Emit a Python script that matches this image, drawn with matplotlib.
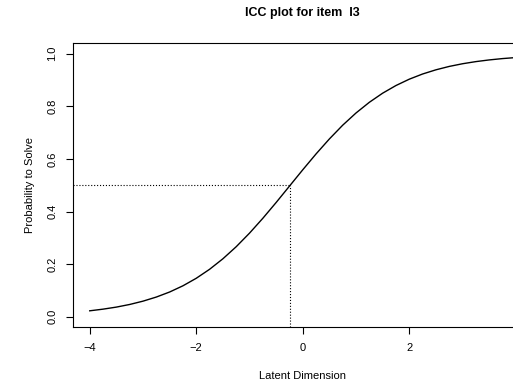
import matplotlib
matplotlib.use('Agg')
import matplotlib.pyplot as plt

# values
theta = [-4.0, -3.75, -3.5, -3.25, -3.0, -2.75, -2.5, -2.25, -2.0, -1.75, -1.5,
         -1.25, -1.0, -0.75, -0.5, -0.25, 0.0, 0.25, 0.5, 0.75, 1.0, 1.25, 1.5,
         1.75, 2.0, 2.25, 2.5, 2.75, 3.0, 3.25, 3.5, 3.75, 4.0]
p_solve = [0.0227, 0.0290, 0.0368, 0.0468, 0.0594, 0.0750, 0.0942, 0.1178,
           0.1464, 0.1805, 0.2205, 0.2664, 0.3180, 0.3745, 0.4346, 0.4968,
           0.5590, 0.6194, 0.6763, 0.7286, 0.7750, 0.8156, 0.8503, 0.8794,
           0.9035, 0.9232, 0.9391, 0.9520, 0.9622, 0.9703, 0.9767, 0.9818,
           0.9857]
difficulty = -0.237
xticks = [-4, -2, 0, 2]
yticks = [0.0, 0.2, 0.4, 0.6, 0.8, 1.0]

plt.rcParams['font.family'] = ['Liberation Sans', 'DejaVu Sans']

fig = plt.figure(figsize=(5.13, 3.82), dpi=100)
ax = fig.add_axes([0.1417, 0.1432, 0.897, 0.7435])

ax.plot(theta, p_solve, color='black', linewidth=1.0)
xmin, xmax = -4.32, 4.32
ymin, ymax = -0.04, 1.04
ax.plot([xmin, difficulty], [0.5, 0.5], color='black', linestyle=':', linewidth=0.8)
ax.plot([difficulty, difficulty], [ymin, 0.5], color='black', linestyle=':', linewidth=0.8)

ax.set_xlim(xmin, xmax)
ax.set_ylim(ymin, ymax)
ax.set_xticks(xticks)
ax.set_xticklabels(['\u22124', '\u22122', '0', '2'])
ax.set_yticks(yticks)
ax.set_yticklabels(['%.1f' % v for v in yticks], rotation=90, va='center')
ax.tick_params(direction='out', length=5, width=0.8, labelsize=8, pad=6)

for sp in ax.spines.values():
    sp.set_linewidth(0.8)

ax.set_title('ICC plot for item  I3', fontsize=9, fontweight='bold', pad=20)
ax.set_xlabel('Latent Dimension', fontsize=8, labelpad=13)
fig.text(30 / 513, 1 - 185 / 382, 'Probability to Solve', rotation=90,
         fontsize=8, ha='center', va='center')

fig.savefig('out.png', dpi=100)
